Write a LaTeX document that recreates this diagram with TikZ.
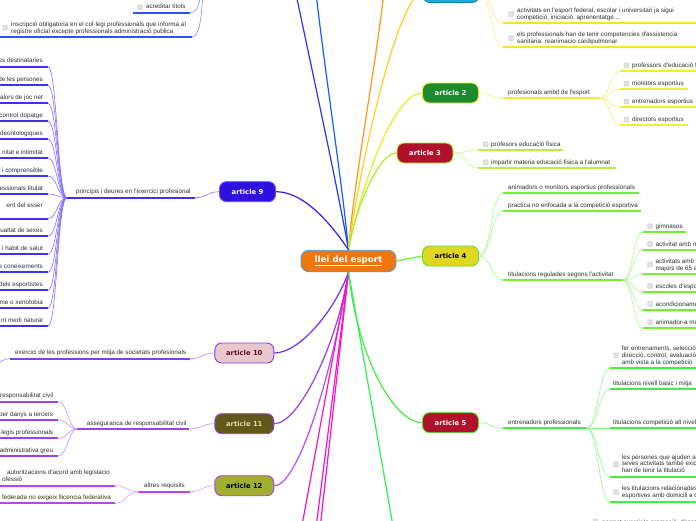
\documentclass[tikz,border=0pt]{standalone}
\usepackage{fontspec}
\usetikzlibrary{backgrounds}
\newfontfamily\leaffam{Liberation Sans}
\newfontfamily\artfam{DejaVu Sans}
\newcommand\leaffont{\leaffam\fontsize{6.3}{6.8}\selectfont}
\newcommand\artfont{\artfam\bfseries\fontsize{6.8}{8}\selectfont}
\newcommand\cenfont{\artfam\bfseries\fontsize{8.7}{10}\selectfont}
\definecolor{leafgray}{HTML}{303030}
\definecolor{chkf}{HTML}{E2E2E2}
\definecolor{chkb}{HTML}{CACACA}
\definecolor{cenf}{HTML}{EE7711}
\definecolor{cenb}{HTML}{5A9AD0}
\definecolor{aOnef}{HTML}{20A8D8}\definecolor{aOneb}{HTML}{0A88A8}
\definecolor{aTwof}{HTML}{1E8A30}\definecolor{aTwob}{HTML}{E8F020}
\definecolor{aThreef}{HTML}{B0102A}\definecolor{aThreeb}{HTML}{A8F030}
\definecolor{aFourf}{HTML}{E0D820}\definecolor{aFourb}{HTML}{60E030}
\definecolor{aFivef}{HTML}{B0102A}\definecolor{aFiveb}{HTML}{40F030}
\definecolor{aNinef}{HTML}{3010E0}\definecolor{aNineb}{HTML}{6050FF}
\definecolor{aTenf}{HTML}{E8C8CC}\definecolor{aTenb}{HTML}{8040F0}\definecolor{aTent}{HTML}{601020}
\definecolor{aElevf}{HTML}{605818}\definecolor{aElevb}{HTML}{9040F0}\definecolor{aElevt}{HTML}{E0D8A8}
\definecolor{aTwelf}{HTML}{A0B030}\definecolor{aTwelb}{HTML}{A040F0}
% line colours
\definecolor{tOne}{HTML}{FFD020}\definecolor{uOne}{HTML}{FFE030}\definecolor{wOne}{HTML}{FFE890}
\definecolor{tTwo}{HTML}{E0F020}\definecolor{uTwo}{HTML}{F0F030}\definecolor{wTwo}{HTML}{F0F080}
\definecolor{tThree}{HTML}{A8F020}\definecolor{uThree}{HTML}{B8F040}\definecolor{wThree}{HTML}{C8F880}
\definecolor{tFour}{HTML}{70F030}\definecolor{uFour}{HTML}{70F030}\definecolor{wFour}{HTML}{A8F890}
\definecolor{tFive}{HTML}{40F040}\definecolor{uFive}{HTML}{40F040}\definecolor{wFive}{HTML}{90F890}
\definecolor{tNine}{HTML}{3818E8}\definecolor{uNine}{HTML}{4030F0}\definecolor{wNine}{HTML}{8070FF}
\definecolor{tTen}{HTML}{7030F0}\definecolor{uTen}{HTML}{8040F0}\definecolor{wTen}{HTML}{A880FF}
\definecolor{tElev}{HTML}{9040F0}\definecolor{uElev}{HTML}{A040F0}\definecolor{wElev}{HTML}{C090FF}
\definecolor{tTwel}{HTML}{B050F0}\definecolor{uTwel}{HTML}{C040F0}\definecolor{wTwel}{HTML}{D8A0FF}
\definecolor{blueA}{HTML}{2838E8}\definecolor{blueB}{HTML}{1060FF}
\definecolor{orangeT}{HTML}{FF9818}\definecolor{magT}{HTML}{FF10C8}\definecolor{greenT}{HTML}{30F050}
\definecolor{uTL}{HTML}{3050F8}\definecolor{wTL}{HTML}{8090FF}
\newcommand\lfoff{2.4}
\newcommand\mlf[7]{%
  \coordinate (#1s) at (#2,#4);
  \coordinate (#1e) at (#3,#4);
  \draw[uline,draw=#6] (#1s) -- (#1e);
  \node[leaf,anchor=south west] (#1) at (#5,#4-\lfoff) {#7\rule[-1.4pt]{0pt}{0pt}};}
\newcommand\mlr[7]{%
  \coordinate (#1s) at (#2,#4);
  \coordinate (#1e) at (#3,#4);
  \draw[uline,draw=#6] (#1s) -- (#1e);
  \node[leaf,anchor=south east] (#1) at (#5,#4-\lfoff) {#7\rule[-1.4pt]{0pt}{0pt}};}
\newcommand\ckbox[3]{\node[chkbox] (#1) at (#2,#3) {};}
\begin{document}
\begin{tikzpicture}[x=1pt,y=-1pt,
  leaf/.style={font=\leaffont,inner sep=0pt,align=left,text=leafgray},
  art/.style={rounded corners=7pt,minimum width=56pt,minimum height=20pt,line width=0.9pt,font=\artfont,inner sep=0pt},
  cen/.style={rounded corners=8pt,minimum width=95pt,minimum height=21.5pt,line width=0.9pt,font=\cenfont,inner sep=0pt,fill=cenf,draw=cenb,text=white},
  uline/.style={line width=1.8pt},
  twig/.style={line width=0.6pt},
  trunk/.style={line width=1.2pt},
  scurve/.style={out=0,in=180,distance=#1},
  scurve/.default=10pt,
  chkbox/.style={draw=chkb,fill=chkf,rounded corners=1pt,minimum size=5pt,inner sep=0pt,line width=0.4pt}]
\useasboundingbox (0,0) rectangle (696,520);

% ---------- central node and articles ----------
\node[cen] (c) at (348.5,261) {\underline{llei del esport}};
\node[art,fill=aOnef,draw=aOneb] (a1) at (451,-7.5) {};
\node[art,fill=aTwof,draw=aTwob,text=white] (a2) at (450.5,93) {article 2};
\node[art,fill=aThreef,draw=aThreeb,text=white] (a3) at (425,153) {article 3};
\node[art,fill=aFourf,draw=aFourb,text=black] (a4) at (450.5,256) {article 4};
\node[art,fill=aFivef,draw=aFiveb,text=white] (a5) at (450.5,422.7) {article 5};
\node[art,fill=aNinef,draw=aNineb,text=white] (a9) at (247.5,191.7) {article 9};
\node[art,fill=aTenf,draw=aTenb,text=aTent,minimum width=59pt] (a10) at (244.3,353) {article 10};
\node[art,fill=aElevf,draw=aElevb,text=aElevt,minimum width=59pt] (a11) at (244.3,423.7) {article 11};
\node[art,fill=aTwelf,draw=aTwelb,text=black,minimum width=59pt] (a12) at (244.3,485.7) {article 12};

% free ends of branches leaving the picture
\coordinate (tb1) at (292,-25);
\coordinate (tb2) at (314,-25);
\coordinate (to1) at (386,-25);
\coordinate (m1) at (298.4,545);
\coordinate (m2) at (313.8,545);
\coordinate (m3) at (318.2,545);
\coordinate (g1) at (396.3,545);

% ---------- trunks (behind the nodes) ----------
\begin{scope}[on background layer]
\fill[white] (0,0) rectangle (696,520);
\draw[trunk,draw=blueA] (c.north) .. controls (338,190) and (312,70) .. (tb1);
\draw[trunk,draw=blueB] (c.north) .. controls (342,180) and (323,60) .. (tb2);
\draw[trunk,draw=orangeT] (c.north) .. controls (354,180) and (377,60) .. (to1);
\draw[trunk,draw=tOne] (c.north) .. controls (362,150) and (400,-7.5) .. (a1.west);
\draw[trunk,draw=tTwo] (c.north) .. controls (362,180) and (395,93) .. (a2.west);
\draw[trunk,draw=tThree] (c.north) .. controls (355,210) and (378,153) .. (a3.west);
\draw[trunk,draw=tFour] (c.east) -- (a4.west);
\draw[trunk,draw=tNine] (c.north) .. controls (325,215) and (300,191.7) .. (a9.east);
\draw[trunk,draw=tFive] (c.south) .. controls (358,360) and (395,422.7) .. (a5.west);
\draw[trunk,draw=tTen] (c.south) .. controls (335,310) and (300,353) .. (a10.east);
\draw[trunk,draw=tElev] (c.south) .. controls (338,340) and (300,423.7) .. (a11.east);
\draw[trunk,draw=tTwel] (c.south) .. controls (335,360) and (300,485.7) .. (a12.east);
\draw[trunk,draw=magT] (c.south) -- (m1);
\draw[trunk,draw=magT] (c.south) -- (m2);
\draw[trunk,draw=magT] (c.south) -- (m3);
\draw[trunk,draw=greenT] (c.south) -- (g1);
\end{scope}

% ---------- top-left blue leaves ----------
\coordinate (tla) at (204,-25);
\mlf{t1}{133}{190}{12.7}{146}{uTL}{acreditar titols}
\ckbox{t1c}{140}{7.2}
\mlf{t2}{-5}{192}{37}{11}{uTL}{inscripció obligatoria en el col·legi professionals que informa al\\registre oficial excepte professionals administració publica}
\ckbox{t2c}{5}{27.7}
\draw[twig,draw=wTL] (t1e) .. controls (198,12.7) and (200,4) .. (tla);
\draw[twig,draw=wTL] (t2e) .. controls (201,37) and (202,10) .. (tla);

% ---------- article 1 ----------
\mlf{b1}{503}{700}{23}{517}{uOne}{activitats en l'esport federal, escolar i universitari ja sigui\\competició, iniciació, aprenentatge....}
\ckbox{b1c}{511}{14}
\mlf{b2}{503}{700}{47.3}{517}{uOne}{els professionals han de tenir competencies d'assistencia\\sanitaria: reanimacio cardipulmonar}
\ckbox{b2c}{511}{38.3}
\draw[twig,draw=wOne] (a1.east) to[scurve=12pt] (b1s);
\draw[twig,draw=wOne] (a1.east) to[scurve=12pt] (b2s);

% ---------- article 2 ----------
\mlf{c2}{503}{600}{98.3}{508}{uTwo}{profesionals ambit de l'esport}
\draw[twig,draw=wTwo] (a2.east) to[scurve=12pt] (c2s);
\mlf{c21}{620}{700}{71}{632}{uTwo}{professors d'educació f}
\mlf{c22}{620}{688}{89.3}{632}{uTwo}{monitors esportius}
\mlf{c23}{620}{700}{107.3}{632}{uTwo}{entrenadors esportius}
\mlf{c24}{620}{688}{125.3}{632}{uTwo}{directors esportius}
\ckbox{c21c}{626.5}{65.5}
\ckbox{c22c}{626.5}{83.5}
\ckbox{c23c}{626.5}{101.5}
\ckbox{c24c}{626.5}{119.5}
\foreach \k in {c21,c22,c23,c24}{\draw[twig,draw=wTwo] (c2e) to[scurve=10pt] (\k s);}

% ---------- article 3 ----------
\mlf{c31}{478}{563}{150}{491}{uThree}{profesors educació fisica}
\mlf{c32}{478}{615.7}{168}{491}{uThree}{impartir materia educació fisica a l'alumnat}
\ckbox{c31c}{485.7}{144.3}
\ckbox{c32c}{485.7}{162.3}
\draw[twig,draw=wThree] (a3.east) to[scurve=12pt] (c31s);
\draw[twig,draw=wThree] (a3.east) to[scurve=12pt] (c32s);

% ---------- article 4 ----------
\mlf{c41}{503}{639}{193.3}{508}{uFour}{animadors o monitors esportius professionals}
\mlf{c42}{503}{641}{211}{508}{uFour}{practica no enfocada a la competició esportiva}
\mlf{c43}{503}{622.7}{280}{508}{uFour}{titulacions regulades segons l'activitat}
\foreach \k in {c41,c42,c43}{\draw[twig,draw=wFour] (a4.east) to[scurve=12pt] (\k s);}
\mlf{c431}{643}{686}{232}{655.5}{uFour}{gimnasos}
\mlf{c432}{643}{700}{250}{655.5}{uFour}{activitat amb m}
\mlf{c433}{643}{700}{274.3}{655.5}{uFour}{activitats amb\\majors de 65 a}
\mlf{c434}{643}{700}{292}{655.5}{uFour}{escoles d'espo}
\mlf{c435}{643}{700}{310}{655.5}{uFour}{acondicioname}
\mlf{c436}{643}{700}{328.3}{655.5}{uFour}{animador-a ma}
\ckbox{c431c}{650}{226.3}
\ckbox{c432c}{650}{244}
\ckbox{c433c}{650}{264.5}
\ckbox{c434c}{650}{286}
\ckbox{c435c}{650}{304}
\ckbox{c436c}{650}{322.3}
\foreach \k in {c431,c432,c433,c434,c435,c436}{\draw[twig,draw=wFour] (c43e) to[scurve=10pt] (\k s);}

% ---------- article 5 ----------
\mlf{c51}{503}{586.7}{428.3}{508}{uFive}{entrenadors professionals}
\draw[twig,draw=wFive] (a5.east) to[scurve=12pt] (c51s);
\mlf{c511}{610}{700}{368}{621.7}{uFive}{fer entrenaments, selecció,\\direcció, control, avaluació\\amb vista a la competició}
\mlf{c512}{610}{700}{389}{613}{uFive}{titulacions nivell basic i mitja}
\mlf{c513}{610}{700}{428.3}{613}{uFive}{titulacions competició alt nivel}
\mlf{c514}{610}{700}{476.7}{621.7}{uFive}{les persones que ajuden a\\seves activitats també exic\\han de tenir la titulació}
\mlf{c515}{610}{700}{501.7}{621.7}{uFive}{les titulacions relacionades\\esportives amb domicili a c}
\ckbox{c511c}{616}{355.3}
\ckbox{c514c}{616}{464.3}
\ckbox{c515c}{616}{492}
\foreach \k in {c511,c512,c513,c514,c515}{\draw[twig,draw=wFive] (c51e) to[scurve=11pt] (\k s);}
\ckbox{p1c}{595.5}{521.5}
\node[leaf,anchor=base west] (p1) at (602,524) {permet exercir la promoció, direcc};

% ---------- article 9 ----------
\mlf{c9}{66.7}{195}{197.7}{76}{uNine}{principis i deures en l'exercici profesional}
\draw[twig,draw=wNine] (c9e) to[scurve=12pt] (a9.west);
\mlr{g91}{-5}{48}{66.7}{43}{uNine}{es destinataries}
\mlr{g92}{-5}{48}{85.3}{43}{uNine}{de les persones}
\mlr{g93}{-5}{48}{103.3}{43}{uNine}{alors de joc net}
\mlr{g94}{-5}{48}{121.3}{43}{uNine}{control dopatge}
\mlr{g95}{-5}{48}{139.3}{43}{uNine}{deontologiques}
\mlr{g96}{-5}{48}{158}{43}{uNine}{nitat e intimitat}
\mlr{g97}{-5}{48}{176}{43}{uNine}{c i comprensible}
\mlr{g98}{-5}{48}{194}{43}{uNine}{essionals titulat}
\renewcommand\lfoff{10}
\mlr{g99}{-5}{48}{218.7}{43}{uNine}{ent del esser}
\renewcommand\lfoff{2.4}
\mlr{g910}{-5}{48}{236.3}{43}{uNine}{qualtat de sexes}
\mlr{g911}{-5}{48}{254.3}{43}{uNine}{i habit de salut}
\mlr{g912}{-5}{48}{272.3}{43}{uNine}{e coneixements}
\mlr{g913}{-5}{48}{290.3}{43}{uNine}{dels esportistes}
\mlr{g914}{-5}{48}{308.3}{43}{uNine}{me o xenofobia}
\mlr{g915}{-5}{48}{326.3}{43}{uNine}{nt medi natural}
\foreach \k in {g91,g92,g93,g94,g95,g96,g97,g98,g99,g910,g911,g912,g913,g914,g915}{\draw[twig,draw=wNine] (\k e) to[scurve=9pt] (c9s);}

% ---------- article 10 ----------
\mlf{c10}{10}{190}{358.7}{15}{uTen}{exercici de les professions per mitja de societats profesionals}
\draw[twig,draw=wTen] (c10e) to[scurve=12pt] (a10.west);
\coordinate (c10x) at (-20,372);
\draw[twig,draw=wTen] (c10x) to[scurve=12pt] (c10s);

% ---------- article 11 ----------
\mlf{c11}{77.3}{189.3}{429}{86.7}{uElev}{asseguranca de responsabilitat civil}
\draw[twig,draw=wElev] (c11e) to[scurve=12pt] (a11.west);
\mlr{g111}{-5}{58.3}{401.7}{53.3}{uElev}{responsabilitat civil}
\mlr{g112}{-5}{58.3}{420}{53.3}{uElev}{per danys a tercers}
\mlr{g113}{-5}{58.3}{438.3}{53.3}{uElev}{l·legis professionals}
\mlr{g114}{-5}{58.3}{456}{53.3}{uElev}{administrativa greu}
\foreach \k in {g111,g112,g113,g114}{\draw[twig,draw=wElev] (\k e) to[scurve=9pt] (c11s);}

% ---------- article 12 ----------
\mlf{c12}{138.3}{190}{491.7}{144}{uTwel}{altres requisits}
\draw[twig,draw=wTwel] (c12e) to[scurve=12pt] (a12.west);
\mlf{g121}{-5}{115}{485.7}{2}{uTwel}{\hspace*{5pt}autoritzacions d'acord amb legislacio\\ofessió}
\mlr{g122}{-5}{115}{503.3}{111}{uTwel}{a federada no exigeix llicencia federativa}
\draw[twig,draw=wTwel] (g121e) to[scurve=11pt] (c12s);
\draw[twig,draw=wTwel] (g122e) to[scurve=11pt] (c12s);
\end{tikzpicture}
\end{document}
